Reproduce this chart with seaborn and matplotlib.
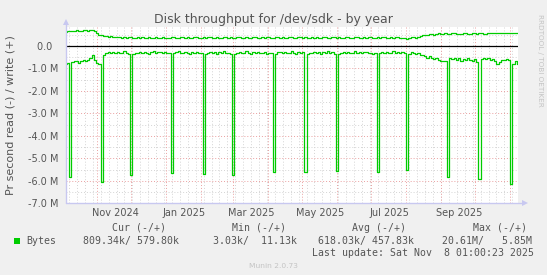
import numpy as np
import pandas as pd
import matplotlib
matplotlib.use("Agg")
import matplotlib.pyplot as plt
from matplotlib.patches import Rectangle
import seaborn as sns

sns.set_theme(style="white")
plt.rcParams["font.family"] = ["DejaVu Sans"]

# ---------------- data (k bytes / s, one sample every 2 days) ----------------
start_date = "2024-10-04"
end_date = "2025-11-08 01:00"

read_k = [
    800, 760, 5830, 700, 680, 690, 750, 680, 650, 670,
    630, 560, 420, 610, 780, 790, 6060, 420, 330, 290,
    340, 270, 320, 260, 300, 340, 250, 300, 360, 5760,
    380, 300, 340, 280, 330, 260, 310, 350, 280, 240,
    320, 290, 260, 330, 270, 310, 300, 5660, 330, 290,
    250, 310, 340, 270, 300, 360, 280, 320, 260, 340,
    310, 5700, 360, 300, 260, 330, 290, 350, 270, 310,
    240, 330, 300, 360, 5760, 380, 320, 270, 340, 300,
    250, 330, 380, 290, 320, 260, 340, 310, 280, 360,
    300, 330, 5630, 350, 290, 260, 320, 280, 340, 300,
    250, 310, 360, 290, 330, 280, 5590, 370, 300, 330,
    270, 320, 260, 350, 290, 310, 240, 320, 290, 350,
    5550, 360, 300, 260, 330, 280, 340, 300, 230, 310,
    270, 330, 290, 260, 320, 300, 350, 310, 5590, 340,
    290, 320, 270, 330, 300, 250, 310, 280, 320, 290,
    330, 5540, 350, 290, 320, 380, 340, 400, 430, 470,
    520, 460, 560, 600, 540, 620, 660, 660, 670, 5820,
    560, 600, 520, 620, 560, 680, 580, 640, 520, 620,
    680, 600, 700, 5900, 600, 540, 580, 560, 620, 600,
    660, 800, 700, 620, 640, 600, 620, 6160, 800, 660,
    810,
]

write_k = [
    600, 660, 650, 670, 660, 700, 680, 660, 690, 700,
    670, 690, 720, 640, 560, 500, 470, 440, 430, 410,
    420, 390, 400, 370, 390, 360, 380, 350, 390, 370,
    340, 360, 390, 350, 370, 330, 360, 380, 340, 360,
    390, 360, 340, 370, 360, 330, 360, 390, 370, 340,
    360, 400, 370, 350, 380, 360, 340, 370, 390, 360,
    340, 370, 350, 390, 370, 340, 360, 390, 360, 340,
    370, 390, 350, 370, 340, 360, 390, 370, 340, 360,
    390, 360, 340, 370, 390, 350, 340, 370, 360, 390,
    370, 350, 340, 370, 390, 360, 370, 340, 360, 390,
    370, 350, 340, 370, 390, 360, 370, 340, 360, 390,
    350, 370, 340, 360, 390, 370, 350, 340, 370, 390,
    360, 370, 340, 360, 390, 370, 350, 340, 370, 390,
    360, 340, 370, 350, 390, 370, 360, 340, 370, 360,
    390, 370, 350, 340, 370, 360, 390, 370, 350, 340,
    330, 300, 340, 370, 390, 360, 400, 430, 470, 500,
    490, 530, 520, 500, 540, 560, 520, 540, 570, 540,
    520, 550, 570, 530, 510, 540, 570, 550, 520, 540,
    570, 550, 530, 560, 580, 540, 530, 560, 580, 550,
    560, 590, 550, 570, 560, 590, 560, 550, 580, 570,
    580,
]

ytick_vals = [0, -1000, -2000, -3000, -4000, -5000, -6000, -7000]
ytick_labels = ["0.0  ", "-1.0 M", "-2.0 M", "-3.0 M", "-4.0 M", "-5.0 M", "-6.0 M", "-7.0 M"]
xtick_dates = ["2024-11-17", "2025-01-17", "2025-03-17", "2025-05-17", "2025-07-17", "2025-09-17"]
xtick_labels = ["Nov 2024", "Jan 2025", "Mar 2025", "May 2025", "Jul 2025", "Sep 2025"]

legend_header = [("Cur (-/+)", 111.7), ("Min (-/+)", 232.0), ("Avg (-/+)", 352.4), ("Max (-/+)", 472.8)]
legend_values = [("809.34k/ 579.80k", 83.0), ("3.03k/  11.13k", 212.8),
                 ("618.03k/ 457.83k", 318.2), ("20.61M/   5.85M", 442.4)]
last_update = "Last update: Sat Nov  8 01:00:23 2025"

# ---------------- figure ----------------
W, H = 547, 275
fig = plt.figure(figsize=(W / 100, H / 100), dpi=100)
fig.patch.set_facecolor("#F0F0F0")
L, R, T, B = 65.7, 518.0, 26.7, 203.3
ax = fig.add_axes([L / W, 1 - B / H, (R - L) / W, (B - T) / H])
ax.set_facecolor("white")

dates = pd.date_range(start_date, periods=len(read_k), freq="2D")
df = pd.DataFrame({"date": dates,
                   "read": -np.array(read_k, dtype=float),
                   "write": np.array(write_k, dtype=float)})

x0 = pd.Timestamp(start_date)
x1 = pd.Timestamp(end_date)
ax.set_xlim(x0, x1)
ax.set_ylim(-7000, 849)

# grid
grid_minor = "#d4d4d4"
grid_major = "#eaa0a0"
ls = (0, (1, 2))
for d in pd.date_range(x0, x1, freq="W-MON"):
    ax.axvline(d, color=grid_minor, lw=0.7, ls=ls, zorder=1)
for d in pd.date_range(x0, x1, freq="MS"):
    ax.axvline(d, color=grid_major, lw=0.7, ls=ls, zorder=1.1)
for v in [500, -500, -1500, -2500, -3500, -4500, -5500, -6500]:
    ax.axhline(v, color=grid_minor, lw=0.7, ls=ls, zorder=1)
for v in ytick_vals[1:]:
    ax.axhline(v, color=grid_major, lw=0.7, ls=ls, zorder=1.1)

green = "#00CC00"
sns.lineplot(data=df, x="date", y="write", ax=ax, color=green, lw=0.9, zorder=3, drawstyle="steps-mid")
sns.lineplot(data=df, x="date", y="read", ax=ax, color=green, lw=0.9, zorder=3, drawstyle="steps-mid")
ax.axhline(0, color="black", lw=0.9, zorder=4)

ax.set_xlabel("")
ax.set_ylabel("")
ax.set_yticks(ytick_vals)
ax.set_yticklabels(ytick_labels)
ax.set_xticks(pd.to_datetime(xtick_dates))
ax.set_xticklabels(xtick_labels)
ax.tick_params(axis="both", length=0, labelsize=7, labelcolor="#555555")
ax.tick_params(axis="y", pad=5.5)
ax.tick_params(axis="x", pad=3.5)
for s in ax.spines.values():
    s.set_visible(False)

# axes with arrows
axis_col = "#c8c8f0"
ax.plot([0, 0], [0, 1.0 + 5 / (B - T)], transform=ax.transAxes, color=axis_col, lw=1.0, clip_on=False, zorder=5)
ax.plot([0, 1.0 + 6 / (R - L)], [0, 0], transform=ax.transAxes, color=axis_col, lw=1.0, clip_on=False, zorder=5)
ax.plot([0], [1.0 + 5 / (B - T)], marker="^", ms=4.5, color=axis_col, transform=ax.transAxes, clip_on=False, zorder=5, mew=0)
ax.plot([1.0 + 7 / (R - L)], [0], marker=">", ms=4.5, color=axis_col, transform=ax.transAxes, clip_on=False, zorder=5, mew=0)

# texts
def fy(y):
    return 1 - y / H

fig.text(0.5, fy(19.5), "Disk throughput for /dev/sdk - by year", ha="center", va="center",
         fontsize=9, color="#555555")
fig.text(10.5 / W, fy(115), "Pr second read (-) / write (+)", rotation=90, ha="center", va="center",
         fontsize=8, color="#555555")
fig.text(540 / W, fy(14), "RRDTOOL / TOBI OETIKER", rotation=270, ha="center", va="top",
         fontsize=5.2, color="#c4c4c4")

mono = dict(family="DejaVu Sans Mono", fontsize=7.15, color="#555555", va="center", ha="left")
for txt, x in legend_header:
    fig.text(x / W, fy(227.7), txt, **mono)
fig.patches.append(Rectangle((14 / W, fy(243.6)), 5.5 / W, 5.5 / H, transform=fig.transFigure,
                             facecolor=green, edgecolor="none", figure=fig))
fig.text(26.2 / W, fy(240.9), "Bytes", **mono)
for txt, x in legend_values:
    fig.text(x / W, fy(240.9), txt, **mono)
fig.text(311.6 / W, fy(253.1), last_update, **mono)
fig.text(0.5, fy(266), "Munin 2.0.73", ha="center", va="center", fontsize=5.4, color="#c4c4c4")

fig.savefig("out.png", dpi=100, facecolor=fig.get_facecolor())
